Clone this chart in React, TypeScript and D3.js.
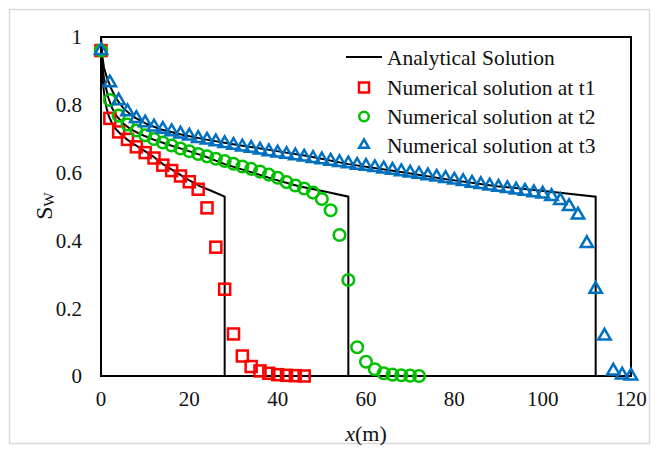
import React from "react";
import * as d3 from "d3";

// ---------- data ----------
const xTicks = [0, 20, 40, 60, 80, 100, 120];
const yTicks = [0, 0.2, 0.4, 0.6, 0.8, 1];
const yTickLabels = ["0", "0.2", "0.4", "0.6", "0.8", "1"];

// Analytical solution (shared saturation levels, x positions per time)
const analyticSw = [1.0, 0.95, 0.91, 0.88, 0.85, 0.82, 0.79, 0.765, 0.745, 0.728, 0.713, 0.698, 0.683, 0.667, 0.648, 0.625, 0.603, 0.58, 0.56, 0.545, 0.529, 0];
const analyticX1 = [0, 0.06, 0.17, 0.34, 0.56, 0.84, 1.26, 1.82, 2.52, 3.36, 4.48, 5.88, 7.56, 9.52, 11.76, 14, 16.8, 19.6, 22.4, 25.2, 28, 28];
const analyticX2 = [0, 0.11, 0.34, 0.67, 1.12, 1.68, 2.52, 3.64, 5.04, 6.72, 8.96, 11.76, 15.12, 19.04, 23.52, 28, 33.6, 39.2, 44.8, 50.4, 56, 56];
const analyticX3 = [0, 0.22, 0.67, 1.34, 2.24, 3.36, 5.04, 7.28, 10.08, 13.44, 17.92, 23.52, 30.24, 38.08, 47.04, 56, 67.2, 78.4, 89.6, 100.8, 112, 112];

// Numerical solutions (x every 2 m)
const numT1 = [0.96, 0.76, 0.72, 0.698, 0.676, 0.659, 0.643, 0.622, 0.606, 0.59, 0.573, 0.551, 0.496, 0.38, 0.256, 0.124, 0.059, 0.028, 0.015, 0.008, 0.004, 0.002, 0.001, 0.0];
const numT2 = [0.96, 0.814, 0.768, 0.742, 0.724, 0.71, 0.699, 0.689, 0.68, 0.671, 0.663, 0.655, 0.648, 0.641, 0.634, 0.626, 0.618, 0.611, 0.603, 0.594, 0.585, 0.572, 0.562, 0.553, 0.541, 0.522, 0.489, 0.416, 0.283, 0.085, 0.042, 0.02, 0.008, 0.004, 0.002, 0.001, 0.0];
const numT3 = [0.96, 0.865, 0.812, 0.78, 0.76, 0.747, 0.735, 0.728, 0.721, 0.714, 0.708, 0.701, 0.696, 0.691, 0.686, 0.681, 0.676, 0.672, 0.667, 0.662, 0.658, 0.654, 0.65, 0.646, 0.642, 0.638, 0.634, 0.63, 0.626, 0.622, 0.619, 0.615, 0.611, 0.607, 0.603, 0.599, 0.595, 0.591, 0.587, 0.583, 0.578, 0.574, 0.569, 0.565, 0.561, 0.557, 0.553, 0.549, 0.545, 0.541, 0.537, 0.53, 0.518, 0.5, 0.475, 0.391, 0.256, 0.118, 0.015, 0.003, 0.0];
const numStep = 2;

const legendLabels = ["Analytical Solution", "Numerical solution at t1", "Numerical solution at t2", "Numerical solution at t3"];

// ---------- style ----------
const W = 659;
const H = 453;
const FONT = "Liberation Serif, Times New Roman, DejaVu Serif, serif";
const TXT: React.CSSProperties = { fontFamily: FONT };
const RED = "#ff0000";
const GREEN = "#00c000";
const BLUE = "#0070c0";
const INK = "#111";

export default function App() {
  const x = d3.scaleLinear().domain([0, 120]).range([101, 631]);
  const y = d3.scaleLinear().domain([0, 1]).range([376, 37]);

  const line = d3
    .line<[number, number]>()
    .x((d) => x(d[0]))
    .y((d) => y(d[1]));

  const analytic = [analyticX1, analyticX2, analyticX3].map((xs) =>
    xs.map((v, i) => [v, analyticSw[i]] as [number, number])
  );

  const tri = d3.symbol(d3.symbolTriangle, 66)() as string;
  const triSmall = d3.symbol(d3.symbolTriangle, 40)() as string;

  const sq = 11;
  const legendX = 364;
  const legendRows = [57, 87.5, 116.5, 145];

  return (
    <svg
      width={W}
      height={H}
      style={{ position: "absolute", left: 0, top: 0, background: "#fff", fontFamily: FONT }}
    >
      <rect x={0} y={0} width={W} height={H} fill="#fff" />
      <rect x={9.5} y={9.5} width={640} height={434} fill="none" stroke="#d9d9d9" strokeWidth={1.5} />

      {/* plot frame */}
      <rect
        x={x(0)}
        y={y(1)}
        width={x(120) - x(0)}
        height={y(0) - y(1)}
        fill="none"
        stroke="#000"
        strokeWidth={2}
      />

      {/* analytical */}
      {analytic.map((pts, i) => (
        <path key={i} d={line(pts) as string} fill="none" stroke="#000" strokeWidth={2} />
      ))}

      {/* numerical t1 */}
      {numT1.map((v, i) => (
        <rect
          key={"r" + i}
          x={x(i * numStep) - sq / 2}
          y={y(v) - sq / 2}
          width={sq}
          height={sq}
          fill="none"
          stroke={RED}
          strokeWidth={2.5}
        />
      ))}
      {/* numerical t2 */}
      {numT2.map((v, i) => (
        <circle key={"g" + i} cx={x(i * numStep)} cy={y(v)} r={5.8} fill="none" stroke={GREEN} strokeWidth={2.5} />
      ))}
      {/* numerical t3 */}
      {numT3.map((v, i) => (
        <path
          key={"b" + i}
          d={tri}
          transform={`translate(${x(i * numStep)},${y(v)})`}
          fill="none"
          stroke={BLUE}
          strokeWidth={2.5}
        />
      ))}

      {/* y tick labels */}
      {yTicks.map((t, i) => (
        <text key={"yt" + i} style={TXT} x={82} y={y(t)} dy="0.35em" textAnchor="end" fontSize={21} fill={INK}>
          {yTickLabels[i]}
        </text>
      ))}
      {/* x tick labels */}
      {xTicks.map((t) => (
        <text key={"xt" + t} style={TXT} x={x(t)} y={399} dy="0.35em" textAnchor="middle" fontSize={21} fill={INK}>
          {t}
        </text>
      ))}

      {/* axis titles */}
      <text style={TXT} x={366} y={433} dy="0.35em" textAnchor="middle" fontSize={22} fill={INK}>
        <tspan fontStyle="italic">x</tspan>(m)
      </text>
      <text style={TXT} transform="translate(52,206) rotate(-90)" textAnchor="middle" fontSize={24} fill={INK}>
        S<tspan fontSize={15} dy={2}>W</tspan>
      </text>

      {/* legend */}
      <line x1={346} x2={382} y1={legendRows[0]} y2={legendRows[0]} stroke="#000" strokeWidth={2} />
      <rect x={legendX - 5} y={legendRows[1] - 5} width={10} height={10} fill="none" stroke={RED} strokeWidth={2.5} />
      <circle cx={legendX} cy={legendRows[2]} r={4.8} fill="none" stroke={GREEN} strokeWidth={2.5} />
      <path d={triSmall} transform={`translate(${legendX},${legendRows[3]})`} fill="none" stroke={BLUE} strokeWidth={2.5} />
      {legendLabels.map((l, i) => (
        <text key={"lg" + i} style={TXT} x={387} y={legendRows[i]} dy="0.35em" fontSize={21.5} fill={INK}>
          {l}
        </text>
      ))}
    </svg>
  );
}
